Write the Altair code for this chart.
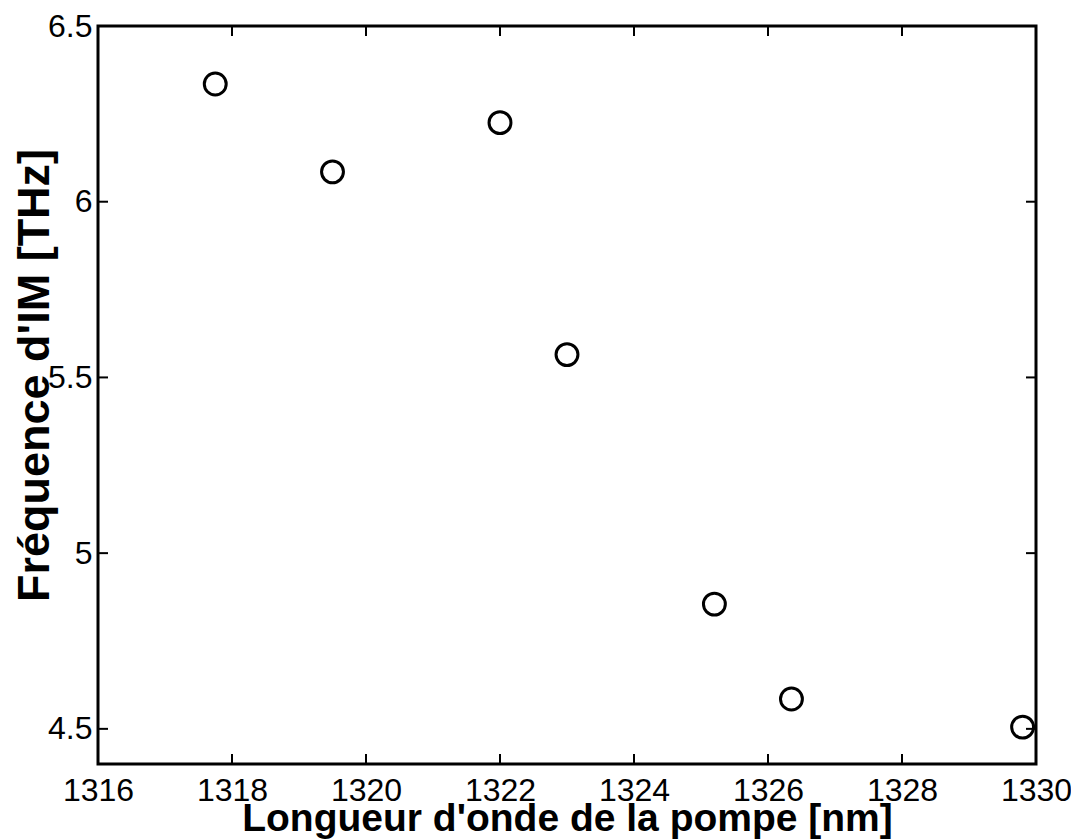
import altair as alt
import pandas as pd

# data
wavelength = [1317.75, 1319.5, 1322.0, 1323.0, 1325.2, 1326.35, 1329.8]
frequency = [6.335, 6.085, 6.225, 5.565, 4.855, 4.585, 4.505]
x_ticks = [1316, 1318, 1320, 1322, 1324, 1326, 1328, 1330]
y_ticks = [4.5, 5.0, 5.5, 6.0, 6.5]

W, H = 938, 738
TICK = 10
FONT = "Liberation Sans"

df = pd.DataFrame({"x": wavelength, "y": frequency})
dfx = pd.DataFrame({"t": x_ticks})
dfy = pd.DataFrame({"t": y_ticks})

xscale = alt.Scale(domain=[1316, 1330], nice=False, zero=False)
yscale = alt.Scale(domain=[4.4, 6.5], nice=False, zero=False)

xaxis = alt.Axis(
    values=x_ticks, format="~g", title="Longueur d'onde de la pompe [nm]",
    domain=False, ticks=False, tickSize=0, grid=False,
    labelFont=FONT, labelFontSize=32, labelColor="black",
    labelPadding=36, labelBaseline="alphabetic", labelFlush=False,
    titleFont=FONT, titleFontSize=39, titleFontWeight="bold", titleColor="black",
    titleBaseline="alphabetic", titleY=66, titleX=W / 2, titleAlign="center")
yaxis = alt.Axis(
    values=y_ticks, format="~g", title="Fréquence d'IM [THz]",
    domain=False, ticks=False, tickSize=0, grid=False,
    labelFont=FONT, labelFontSize=32, labelColor="black",
    labelPadding=6, labelBaseline="middle", labelFlush=False,
    titleFont=FONT, titleFontSize=45, titleFontWeight="bold", titleColor="black",
    titleBaseline="alphabetic", titleAngle=270, titleX=-50, titleY=349,
    titleAlign="center")

points = alt.Chart(df).mark_point(
    shape="circle", filled=False, color="black", strokeWidth=3, size=480, opacity=1
).encode(
    x=alt.X("x:Q", scale=xscale, axis=xaxis, title="Longueur d'onde de la pompe [nm]"),
    y=alt.Y("y:Q", scale=yscale, axis=yaxis, title="Fréquence d'IM [THz]"),
)

bottom_ticks = alt.Chart(dfx).mark_rule(color="black", strokeWidth=2).encode(
    x=alt.X("t:Q", scale=xscale, axis=xaxis, title="Longueur d'onde de la pompe [nm]"),
    y=alt.value(H), y2=alt.value(H - TICK))
top_ticks = alt.Chart(dfx).mark_rule(color="black", strokeWidth=2).encode(
    x=alt.X("t:Q", scale=xscale, axis=xaxis, title="Longueur d'onde de la pompe [nm]"),
    y=alt.value(0), y2=alt.value(TICK))
left_ticks = alt.Chart(dfy).mark_rule(color="black", strokeWidth=2).encode(
    y=alt.Y("t:Q", scale=yscale, axis=yaxis, title="Fréquence d'IM [THz]"),
    x=alt.value(0), x2=alt.value(TICK))
right_ticks = alt.Chart(dfy).mark_rule(color="black", strokeWidth=2).encode(
    y=alt.Y("t:Q", scale=yscale, axis=yaxis, title="Fréquence d'IM [THz]"),
    x=alt.value(W), x2=alt.value(W - TICK))

chart = alt.layer(
    points, bottom_ticks, top_ticks, left_ticks, right_ticks
).properties(
    width=W, height=H,
    background="white",
    autosize=alt.AutoSizeParams(type="none"),
    padding={"left": 90, "top": 18, "right": 35, "bottom": 76},
).configure_view(
    stroke="black", strokeWidth=3
)

chart.save("out.html", embed_options={"renderer": "svg", "actions": False})
